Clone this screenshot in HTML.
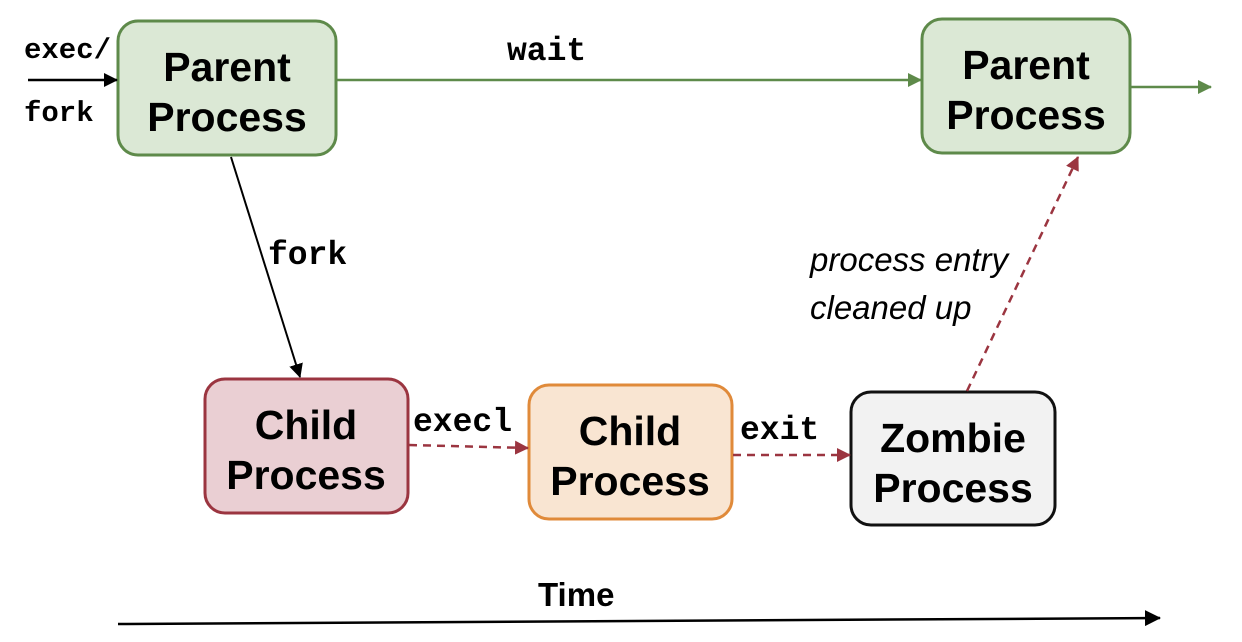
<!DOCTYPE html>
<html><head><style>body{margin:0;background:#fff}svg{display:block}</style></head><body>
<svg width="1242" height="642" xmlns="http://www.w3.org/2000/svg">
<defs>
<marker id="ab" markerWidth="14" markerHeight="14" refX="13" refY="7" orient="auto" markerUnits="userSpaceOnUse" viewBox="0 0 14 14"><path d="M0,0 L14,7 L0,14 z" fill="#000"/></marker>
<marker id="ag" markerWidth="14" markerHeight="14" refX="13" refY="7" orient="auto" markerUnits="userSpaceOnUse" viewBox="0 0 14 14"><path d="M0,0 L14,7 L0,14 z" fill="#5e8a4a"/></marker>
<marker id="ar" markerWidth="14" markerHeight="14" refX="13" refY="7" orient="auto" markerUnits="userSpaceOnUse" viewBox="0 0 14 14"><path d="M0,0 L14,7 L0,14 z" fill="#9b3540"/></marker>
<marker id="ak" markerWidth="16" markerHeight="16" refX="15" refY="8" orient="auto" markerUnits="userSpaceOnUse" viewBox="0 0 16 16"><path d="M0,0 L16,8 L0,16 z" fill="#000"/></marker>
</defs>
<g font-family="Liberation Sans, sans-serif" font-weight="bold" font-size="41" text-anchor="middle">
<rect x="118" y="21" width="218" height="134" rx="20" fill="#dbe8d5" stroke="#5e8a4a" stroke-width="3"/>
<text x="227" y="81">Parent</text><text x="227" y="131">Process</text>
<rect x="922" y="19" width="208" height="134" rx="20" fill="#dbe8d5" stroke="#5e8a4a" stroke-width="3"/>
<text x="1026" y="79">Parent</text><text x="1026" y="129">Process</text>
<rect x="205" y="379" width="203" height="134" rx="20" fill="#eacfd3" stroke="#9b3540" stroke-width="3"/>
<text x="306" y="439">Child</text><text x="306" y="489">Process</text>
<rect x="529" y="385" width="203" height="134" rx="20" fill="#f9e5d2" stroke="#e08a3a" stroke-width="3"/>
<text x="630" y="445">Child</text><text x="630" y="495">Process</text>
<rect x="851" y="392" width="204" height="133" rx="20" fill="#f2f2f2" stroke="#111" stroke-width="3"/>
<text x="953" y="452">Zombie</text><text x="953" y="502">Process</text>
</g>
<line x1="28" y1="80" x2="117" y2="80" stroke="#000" stroke-width="2.5" marker-end="url(#ab)"/>
<line x1="337" y1="80" x2="921" y2="80" stroke="#5e8a4a" stroke-width="2.5" marker-end="url(#ag)"/>
<line x1="1131" y1="87" x2="1211" y2="87" stroke="#5e8a4a" stroke-width="2.5" marker-end="url(#ag)"/>
<line x1="231" y1="157" x2="300" y2="377" stroke="#000" stroke-width="2" marker-end="url(#ab)"/>
<line x1="409" y1="445" x2="528" y2="448" stroke="#9b3540" stroke-width="2.5" stroke-dasharray="8,6" marker-end="url(#ar)"/>
<line x1="733" y1="455" x2="850" y2="455" stroke="#9b3540" stroke-width="2.5" stroke-dasharray="8,6" marker-end="url(#ar)"/>
<line x1="967" y1="391" x2="1078" y2="157" stroke="#9b3540" stroke-width="2.5" stroke-dasharray="8,6" marker-end="url(#ar)"/>
<line x1="118" y1="624" x2="1160" y2="618" stroke="#000" stroke-width="2.5" marker-end="url(#ak)"/>
<g font-family="Liberation Mono, monospace" font-weight="bold" font-size="29">
<text x="24" y="58">exec/</text><text x="24" y="121">fork</text>
</g>
<g font-family="Liberation Mono, monospace" font-weight="bold" font-size="33">
<text x="507" y="60">wait</text><text x="268" y="264">fork</text>
<text x="413" y="431">execl</text><text x="740" y="439">exit</text>
</g>
<g font-family="Liberation Sans, sans-serif" font-style="italic" font-size="33">
<text x="810" y="271">process entry</text><text x="810" y="319">cleaned up</text>
</g>
<text x="538" y="606" font-family="Liberation Sans, sans-serif" font-weight="bold" font-size="33">Time</text>
</svg>
</body></html>
